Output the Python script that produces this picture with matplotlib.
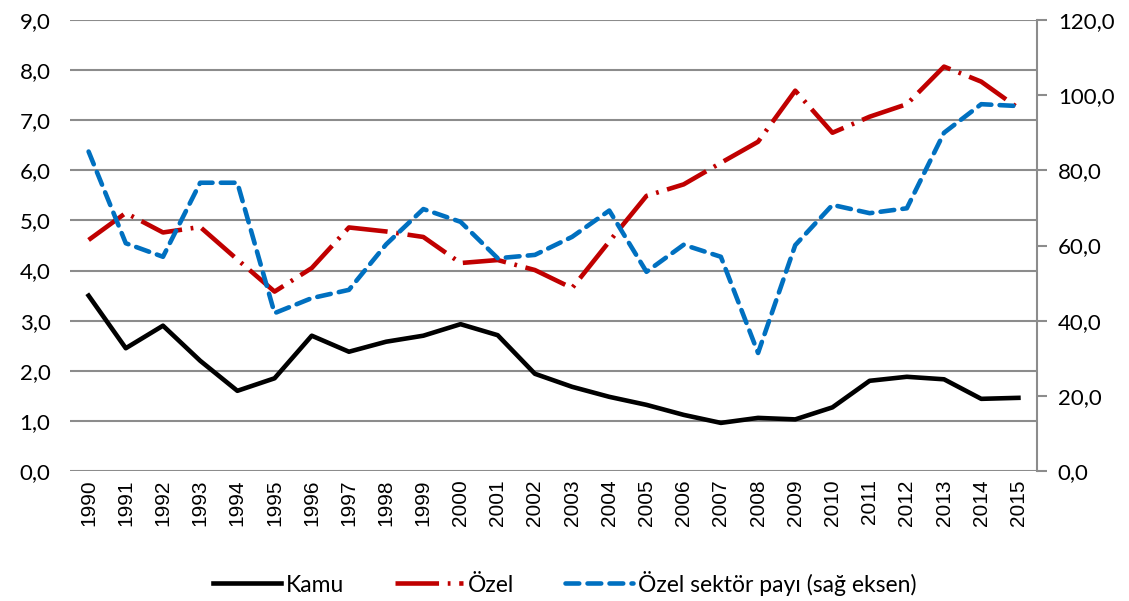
import matplotlib
matplotlib.use("Agg")
import matplotlib.pyplot as plt
from matplotlib.lines import Line2D

years = list(range(1990, 2016))
kamu = [3.50, 2.45, 2.90, 2.20, 1.60, 1.85, 2.70, 2.38, 2.58, 2.70,
        2.93, 2.71, 1.94, 1.68, 1.48, 1.32, 1.12, 0.96, 1.06, 1.03,
        1.27, 1.80, 1.88, 1.83, 1.44, 1.46]
ozel = [4.61, 5.15, 4.76, 4.87, 4.22, 3.58, 4.05, 4.86, 4.78, 4.67,
        4.15, 4.21, 4.01, 3.65, 4.58, 5.49, 5.72, 6.15, 6.57, 7.59,
        6.75, 7.07, 7.32, 8.07, 7.77, 7.24]
pay = [85.0, 60.6, 57.0, 76.7, 76.7, 42.0, 46.0, 48.2, 60.3, 69.7,
       66.3, 56.6, 57.5, 62.3, 69.3, 53.0, 60.2, 57.0, 31.4, 60.1,
       70.8, 68.6, 69.9, 90.0, 97.6, 97.1]

left_ticks = [i for i in range(0, 10)]
right_ticks = [i * 20 for i in range(0, 7)]

W, H = 1129, 601
fig = plt.figure(figsize=(W / 100, H / 100), dpi=100)
ax = fig.add_axes([70 / W, 1 - 471 / H, (1037 - 70) / W, (471 - 20) / H])
ax2 = ax.twinx()

x = list(range(len(years)))
lw = 3.3
red_style = (0, (9.5, 1.9, 0.6, 1.9))
blue_style = (0, (3.0, 1.8))

ax.plot(x, kamu, color="black", lw=lw, solid_joinstyle="round", zorder=3)
ax.plot(x, ozel, color="#c00000", lw=lw, linestyle=red_style,
        dash_capstyle="butt", zorder=3)
ax2.plot(x, pay, color="#0070c0", lw=lw, linestyle=blue_style,
         dash_capstyle="round", zorder=3)

ax.set_xlim(-0.5, len(years) - 0.5)
ax.set_ylim(0, 9)
ax2.set_ylim(0, 120)

ax.set_yticks(left_ticks)
ax.set_yticklabels(["%d,0" % v for v in left_ticks], fontsize=16, family="Lato")
ax2.set_yticks(right_ticks)
ax2.set_yticklabels(["%d,0" % v for v in right_ticks], fontsize=16, family="Lato")
ax.set_xticks(x)
ax.set_xticklabels([str(y) for y in years], rotation=90, fontsize=15,
                   family="Liberation Sans")

ax.grid(axis="y", color="#8c8c8c", lw=1.5)
ax.set_axisbelow(True)
ax.tick_params(axis="y", length=0, pad=14)
ax.tick_params(axis="x", length=0, pad=6)
ax2.tick_params(axis="y", length=7, width=1.5, color="#8c8c8c", pad=8)

for a in (ax, ax2):
    for s in ("top", "left", "bottom", "right"):
        a.spines[s].set_visible(False)
ax2.spines["right"].set_visible(True)
ax2.spines["right"].set_color("#8c8c8c")
ax2.spines["right"].set_linewidth(1.5)

handles = [
    Line2D([], [], color="black", lw=lw),
    Line2D([], [], color="#c00000", lw=lw, linestyle=red_style),
    Line2D([], [], color="#0070c0", lw=lw, linestyle=blue_style,
           dash_capstyle="round"),
]
labels = ["Kamu", "Özel", "Özel sektör payı (sağ eksen)"]
fig.legend(handles, labels, loc="center", bbox_to_anchor=(0.5, 1 - 583 / H),
           ncol=3, frameon=False, prop={"family": "Lato", "size": 16.5},
           handlelength=3.0, handletextpad=0.2, columnspacing=2.2)

fig.savefig("out.png", dpi=100)
